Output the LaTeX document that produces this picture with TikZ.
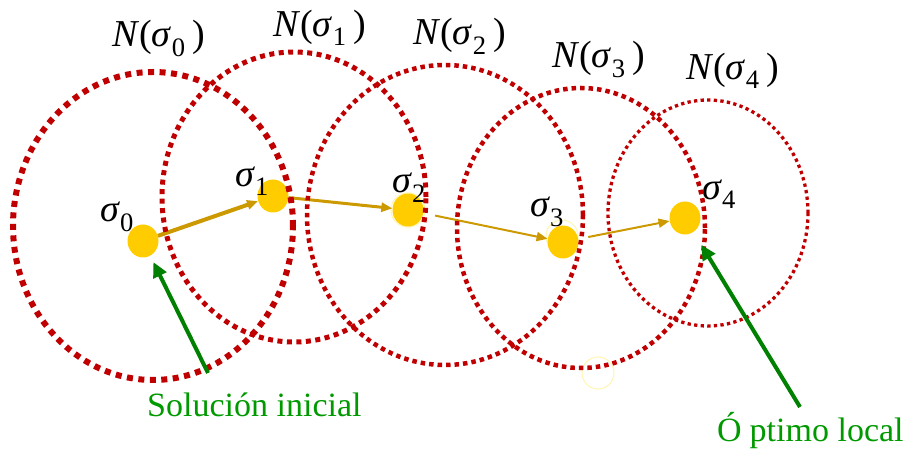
\documentclass[tikz,border=0pt]{standalone}
\usepackage{fontspec}
\setmainfont{Liberation Serif}
\usepackage{xcolor}
\usepackage{tikz}
\usetikzlibrary{arrows.meta,shapes.geometric}
\definecolor{HoodRed}{HTML}{C00000}
\definecolor{DotYellow}{HTML}{FFCC00}
\definecolor{StepGold}{HTML}{CC9900}
\definecolor{PathGreen}{HTML}{008000}
\definecolor{NoteGreen}{HTML}{009900}
\definecolor{RingYellow}{HTML}{FFF5B0}
\newcommand{\sig}[1]{\textit{σ}\textsubscript{#1}}

\begin{document}
\begin{tikzpicture}[x=1pt,y=1pt,
    hood/.style 2 args={ellipse,draw=HoodRed,line width=#1,dash pattern=on #1 off #2,inner sep=0pt},
    sol/.style={ellipse,fill=DotYellow,minimum width=31pt,minimum height=33pt,inner sep=0pt},
    tag/.style={inner sep=0pt,font=\fontsize{38}{40}\selectfont},
    note/.style={inner sep=0pt,text=NoteGreen,font=\fontsize{34}{36}\selectfont},
    stepto/.style={StepGold,line width=#1,-{Triangle[length=11pt,width=9pt]}},
    pointer/.style={PathGreen,line width=4pt,-{Triangle[length=15pt,width=14pt]}}]
  \useasboundingbox (0,0) rectangle (911,452);
  % solutions
  \draw[RingYellow,line width=1.2pt] (408,242) circle (17);
  \draw[RingYellow,line width=1pt] (562,216) circle (16);
  \draw[RingYellow,line width=1pt] (598,79) circle (16);
  \node[sol] (s0) at (143,211) {};
  \node[sol] (s1) at (273,256) {};
  \node[sol] (s2) at (408,242) {};
  \node[sol] (s3) at (563,210) {};
  \node[sol] (s4) at (685,234) {};
  \node[tag,anchor=base west] (t0) at (100,230) {\sig{0}};
  \node[tag,anchor=base west] (t1) at (235,265) {\sig{1}};
  \node[tag,anchor=base west] (t2) at (392,259) {\sig{2}};
  \node[tag,anchor=base west] (t3) at (530,235) {\sig{3}};
  \node[tag,anchor=base west] (t4) at (702,252) {\sig{4}};
  % moves
  \draw[stepto=4pt] (s0) -- (s1);
  \draw[stepto=3pt] (s1) -- (s2);
  \draw[stepto=2pt,shorten <=12pt] (s2) -- (s3);
  \draw[stepto=2pt,shorten <=10pt] (s3) -- (s4);
  % neighbourhoods
  \node[hood={6pt}{5.5pt},minimum width=280pt,minimum height=308pt] (n0) at (153,226) {};
  \node[hood={5pt}{4.5pt},minimum width=264pt,minimum height=290pt] (n1) at (294,255) {};
  \node[hood={4.5pt}{4pt},minimum width=276pt,minimum height=300pt] (n2) at (445,237) {};
  \node[hood={4.5pt}{4pt},minimum width=248pt,minimum height=280pt] (n3) at (581,224) {};
  \node[hood={3.3pt}{3.3pt},minimum width=200pt,minimum height=226pt] (n4) at (708,239) {};
  \node[tag,anchor=base west] (h0) at (112,405) {\textit{N}(\sig{0}\,)};
  \node[tag,anchor=base west] (h1) at (273,415) {\textit{N}(\sig{1}\,)};
  \node[tag,anchor=base west] (h2) at (413,407) {\textit{N}(\sig{2}\,)};
  \node[tag,anchor=base west] (h3) at (552,384) {\textit{N}(\sig{3}\,)};
  \node[tag,anchor=base west] (h4) at (686,372) {\textit{N}(\sig{4}\,)};
  % remarks
  \coordinate (startTail) at (208,79);
  \coordinate (bestTail) at (800,45);
  \draw[pointer,shorten >=7pt] (startTail) -- (s0);
  \draw[pointer,shorten >=15pt] (bestTail) -- (s4);
  \node[note,anchor=base west] (start) at (147,35) {Solución inicial};
  \node[note,anchor=base west] (best) at (717,10) {Ó\kern8pt ptimo local};
\end{tikzpicture}
\end{document}
